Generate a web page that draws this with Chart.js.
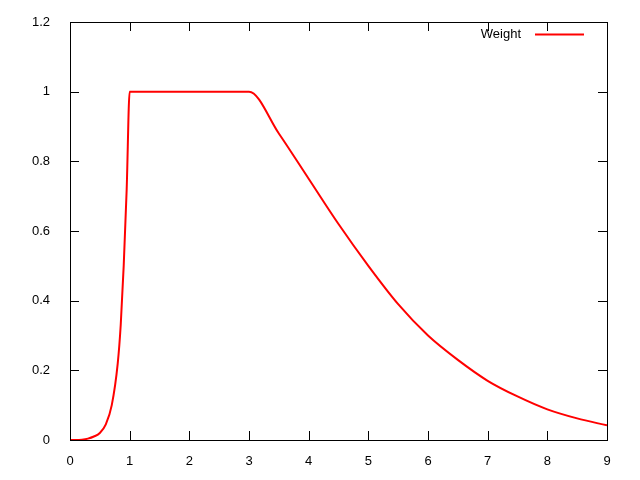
<!DOCTYPE html>
<html>
<head>
<script src="https://cdn.jsdelivr.net/npm/chart.js@4"></script>
<style>
body { margin: 0; background: #fff; }
#wrap { width: 640px; height: 480px; }
</style>
</head>
<body>
<div id="wrap"><canvas id="myChart" width="640" height="480"></canvas></div>
<script>
const xValues = [0, 0.1, 0.2, 0.3, 0.4, 0.5, 0.6, 0.7, 0.8, 0.85, 0.9, 0.95, 1.0, 3.0, 3.5, 4.0, 4.5, 5.0, 5.5, 6.0, 6.5, 7.0, 7.5, 8.0, 8.5, 9.0];
const weightValues = [0, 0, 0.001, 0.004, 0.01, 0.02, 0.045, 0.1, 0.22, 0.33, 0.5, 0.72, 1.0, 1.0, 0.88, 0.75, 0.62, 0.5, 0.39, 0.3, 0.23, 0.17, 0.125, 0.088, 0.062, 0.042];
const seriesName = 'Weight';

const font = { family: 'Liberation Sans', size: 13 };

// gnuplot-like inward ticks on all four sides and legend in the corner
const gnuplotFrame = {
    id: 'gnuplotFrame',
    afterDraw(chart) {
        const c = chart.ctx, a = chart.chartArea;
        const xs = chart.scales.x, ys = chart.scales.y;
        c.save();
        c.strokeStyle = '#000';
        c.lineWidth = 1;
        c.beginPath();
        xs.ticks.forEach(t => {
            const px = Math.round(xs.getPixelForValue(t.value)) + 0.5;
            c.moveTo(px, a.bottom); c.lineTo(px, a.bottom - 9);
            c.moveTo(px, a.top); c.lineTo(px, a.top + 9);
        });
        ys.ticks.forEach(t => {
            const py = Math.round(ys.getPixelForValue(t.value)) + 0.5;
            c.moveTo(a.left, py); c.lineTo(a.left + 9, py);
            c.moveTo(a.right, py); c.lineTo(a.right - 9, py);
        });
        c.stroke();
        c.strokeRect(a.left + 0.5, a.top + 0.5, a.right - a.left, a.bottom - a.top);
        c.font = '13px "Liberation Sans"';
        c.fillStyle = '#000';
        c.textAlign = 'right';
        c.textBaseline = 'middle';
        c.fillText(seriesName, 521, 34);
        c.strokeStyle = '#ff0000';
        c.lineWidth = 2;
        c.beginPath();
        c.moveTo(535, 34.5); c.lineTo(584, 34.5);
        c.stroke();
        c.restore();
    }
};

const ctx = document.getElementById('myChart').getContext('2d');
const myChart = new Chart(ctx, {
    type: 'scatter',
    data: {
        datasets: [{
            label: seriesName,
            data: xValues.map((x, i) => ({ x: x, y: weightValues[i] })),
            showLine: true,
            borderColor: '#ff0000',
            borderWidth: 2,
            pointRadius: 0,
            tension: 0.3,
            cubicInterpolationMode: 'monotone'
        }]
    },
    options: {
        responsive: false,
        animation: false,
        layout: { padding: { top: 22, right: 33, left: 0, bottom: 0 } },
        plugins: { legend: { display: false }, tooltip: { enabled: false } },
        scales: {
            x: {
                type: 'linear', min: 0, max: 9,
                grid: { display: false },
                border: { display: false },
                ticks: { stepSize: 1, color: '#000', font: font, padding: 6, maxRotation: 0 },
                afterFit(s) { s.height = 40; }
            },
            y: {
                min: 0, max: 1.2,
                grid: { display: false },
                border: { display: false },
                ticks: { stepSize: 0.2, color: '#000', font: font, padding: 12,
                    callback: v => String(Math.round(v * 10) / 10) },
                afterFit(s) { s.width = 70; }
            }
        }
    },
    plugins: [gnuplotFrame]
});
</script>
</body>
</html>
